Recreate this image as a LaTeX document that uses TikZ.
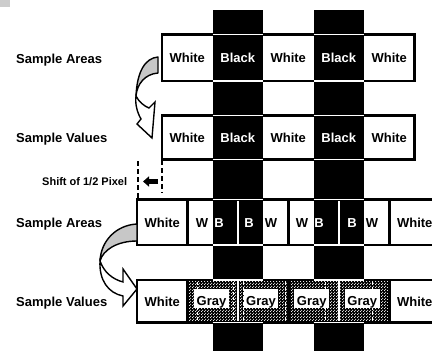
\documentclass[tikz,border=0pt]{standalone}
\usepackage{fontspec}
\setmainfont{Liberation Sans}
\usetikzlibrary{patterns,arrows.meta}

% white dots on a dark ground for the averaged (gray) samples
\pgfdeclarepatternformonly{wdots}{\pgfqpoint{0pt}{0pt}}{\pgfqpoint{3pt}{3pt}}{\pgfqpoint{3pt}{3pt}}{%
  \pgfpathcircle{\pgfqpoint{0.75pt}{0.75pt}}{0.7pt}%
  \pgfpathcircle{\pgfqpoint{2.25pt}{2.25pt}}{0.7pt}%
  \pgfusepath{fill}%
}

\begin{document}
\begin{tikzpicture}[x=1pt,y=-1pt,
  txt/.style={inner sep=0pt, text height=9.3pt, text depth=0pt,
    font=\fontsize{13}{15}\selectfont\bfseries},
  wtxt/.style={txt, text=white},
  lbl/.style={txt, anchor=west},
  graybox/.style={fill=white, inner xsep=2.5pt, inner ysep=0.5pt,
    text height=16pt, text depth=2.5pt, anchor=base,
    font=\fontsize{13}{15}\selectfont\bfseries},
  outl/.style={line width=2.6pt},
  wline/.style={white, line width=1.8pt},
  bdiv/.style={line width=2.4pt},
  wdiv/.style={white, line width=1.8pt},
  wdash/.style={white, line width=0.8pt, dash pattern=on 3pt off 2pt},
  band/.style={fill=black!22, draw=black, line width=1.4pt, line join=round},
  front/.style={fill=white, draw=black, line width=1.4pt, line join=miter},
  shiftline/.style={draw=black, line width=2pt, dash pattern=on 5pt off 3pt},
]
\fill[white] (0,0) rectangle (432,351);
\useasboundingbox (0,0) rectangle (432,351);
\clip (0,0) rectangle (432,351);
\fill[black!20] (0,0) rectangle (10,7);

% the two black columns of the scene
\fill (212.5,10) rectangle (263,351);
\fill (313.5,10) rectangle (364,351);

% ---------- row 1: sample areas ----------
\foreach \a/\b in {162/212.5, 263/313.5, 364/414.5}
  \fill[white] (\a,34.5) rectangle (\b,81);
\draw[outl] (162,34.5) rectangle (414.5,81);
\foreach \a/\b in {212.5/263, 313.5/364} {
  \draw[wline] (\a,34.5) -- (\b,34.5);
  \draw[wline] (\a,81) -- (\b,81);
}
\node[txt]  (a1) at (187.25,58) {White};
\node[wtxt] (a2) at (237.75,58) {Black};
\node[txt]  (a3) at (288.25,58) {White};
\node[wtxt] (a4) at (338.75,58) {Black};
\node[txt]  (a5) at (389.25,58) {White};

% ---------- row 2: sample values ----------
\foreach \a/\b in {162/212.5, 263/313.5, 364/414.5}
  \fill[white] (\a,115.5) rectangle (\b,159.5);
\draw[outl] (162,115.5) rectangle (414.5,159.5);
\foreach \a/\b in {212.5/263, 313.5/364} {
  \draw[wline] (\a,115.5) -- (\b,115.5);
  \draw[wline] (\a,159.5) -- (\b,159.5);
}
\node[txt]  (v1) at (187.25,138) {White};
\node[wtxt] (v2) at (237.75,138) {Black};
\node[txt]  (v3) at (288.25,138) {White};
\node[wtxt] (v4) at (338.75,138) {Black};
\node[txt]  (v5) at (389.25,138) {White};

% ---------- row 3: sample areas shifted by half a pixel ----------
\foreach \a/\b in {137/212.5, 263/313.5, 364/440}
  \fill[white] (\a,199.5) rectangle (\b,245);
\foreach \x in {187.5, 288.5, 389.5}
  \draw[bdiv] (\x,199.5) -- (\x,245);
\foreach \x in {238, 339}
  \draw[wdiv] (\x,199.5) -- (\x,245);
\draw[outl] (137,199.5) rectangle (440,245);
\foreach \a/\b in {212.5/263, 313.5/364} {
  \draw[wline] (\a,199.5) -- (\b,199.5);
  \draw[wline] (\a,245) -- (\b,245);
}
\node[txt]  (s1)  at (162.25,222.5) {White};
\node[txt]  (s2a) at (202,222.5) {W};
\node[wtxt] (s2b) at (219,222.5) {B};
\node[wtxt] (s3a) at (249,222.5) {B};
\node[txt]  (s3b) at (271,222.5) {W};
\node[txt]  (s4a) at (302,222.5) {W};
\node[wtxt] (s4b) at (319,222.5) {B};
\node[wtxt] (s5a) at (352,222.5) {B};
\node[txt]  (s5b) at (372,222.5) {W};
\node[txt]  (s6)  at (414.75,222.5) {White};

% ---------- row 4: resulting sample values ----------
\fill[white] (137,280) rectangle (187.5,322.5);
\fill[white] (389.5,280) rectangle (440,322.5);
\fill[black] (187.5,280) rectangle (389.5,322.5);
\fill[pattern=wdots, pattern color=white] (187.5,280) rectangle (389.5,322.5);
\foreach \x in {197, 233, 243, 285, 325, 372}
  \draw[wdash] (\x,281.5) -- (\x,321);
\foreach \x in {187.5, 288.5, 389.5}
  \draw[bdiv] (\x,280) -- (\x,322.5);
\foreach \x in {238, 339}
  \draw[wdiv] (\x,280) -- (\x,322.5);
\draw[outl] (137,280) rectangle (440,322.5);
\foreach \a/\b in {212.5/263, 313.5/364} {
  \draw[wline] (\a,280) -- (\b,280);
  \draw[wline] (\a,322.5) -- (\b,322.5);
}
\node[txt]      (g1) at (162.25,301.5) {White};
\node[graybox]  (g2) at (211.5,305) {Gray};
\node[graybox]  (g3) at (261,305) {Gray};
\node[graybox]  (g4) at (311.75,305) {Gray};
\node[graybox]  (g5) at (362.25,305) {Gray};
\node[txt]      (g6) at (414.75,301.5) {White};

% ---------- row labels ----------
\node[lbl] (l1) at (16,59)  {Sample Areas};
\node[lbl] (l2) at (16,138) {Sample Values};
\node[lbl] (l3) at (16,223) {Sample Areas};
\node[lbl] (l4) at (16,302) {Sample Values};

% ---------- curved arrow: areas -> values (upper pair) ----------
\filldraw[band] (158,57) .. controls (145,58) and (137,72) .. (136,96)
  .. controls (137,84) and (145,74) .. (158,73) -- cycle;
\filldraw[front] (136,96) .. controls (139,102) and (144,106) .. (149,108)
  -- (155,102) -- (152,138) -- (137,124) -- (141,119)
  .. controls (137,112) and (135,104) .. (136,96) -- cycle;

% ---------- curved arrow: areas -> values (lower pair) ----------
\filldraw[band] (137,224) .. controls (117,225) and (101,240) .. (100,261)
  .. controls (103,250) and (117,241) .. (137,241) -- cycle;
\filldraw[front] (100,261) .. controls (104,272) and (112,279) .. (123,282)
  -- (123,269) -- (137,289) -- (123,306) -- (123,296)
  .. controls (108,293) and (99,280) .. (100,261) -- cycle;

% ---------- half-pixel shift marker ----------
\coordinate (oldTop) at (162,160);
\coordinate (oldEnd) at (162,193);
\coordinate (newTop) at (138,161);
\coordinate (newEnd) at (138,198);
\draw[shiftline] (oldTop) -- (oldEnd);
\draw[shiftline] (newTop) -- (newEnd);
\coordinate (sa) at (158,181.5);
\coordinate (sb) at (143,181.5);
\draw[line width=4.5pt, -{Triangle[length=6pt,width=10pt]}] (sa) -- (sb);
\node[inner sep=0pt, text height=7.9pt, text depth=0pt, anchor=west,
  font=\fontsize{11}{13}\selectfont\bfseries] (shift) at (42,182) {Shift of 1/2 Pixel};
\end{tikzpicture}
\end{document}
